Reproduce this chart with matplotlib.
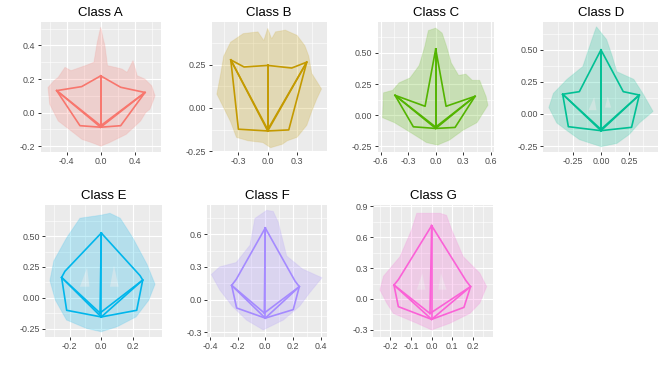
import matplotlib
matplotlib.use("Agg")
import matplotlib.pyplot as plt
from matplotlib.ticker import FixedLocator, FormatStrFormatter
from matplotlib.path import Path
from matplotlib.patches import PathPatch

plt.rcParams['font.family'] = ['Liberation Sans', 'DejaVu Sans']

classes = ["A", "B", "C", "D", "E", "F", "G"]
colors = ["#F8766D", "#C49A00", "#53B400", "#00C094", "#00B6EB", "#A58AFF", "#FB61D7"]

# mean shapes: tip, right sinus, right lobe, right base, petiole, left base, left lobe, left sinus, vein junction
mean_A = [(0, 0.219), (0.235, 0.151), (0.521, 0.120), (0.235, -0.078), (0, -0.087),
          (-0.244, -0.078), (-0.518, 0.131), (-0.224, 0.155), (0, -0.078)]
mean_B = [(0, 0.246), (0.245, 0.231), (0.399, 0.265), (0.215, -0.127), (0, -0.133),
          (-0.300, -0.123), (-0.378, 0.278), (-0.242, 0.237), (0, -0.125)]
mean_C = [(0, 0.532), (0.113, 0.072), (0.429, 0.152), (0.211, -0.098), (0, -0.106),
          (-0.244, -0.093), (-0.444, 0.160), (-0.116, 0.072), (0, -0.095)]
mean_D = [(0, 0.500), (0.197, 0.174), (0.338, 0.148), (0.270, -0.104), (0, -0.130),
          (-0.288, -0.099), (-0.338, 0.154), (-0.191, 0.174), (0, -0.120)]
mean_E = [(0, 0.525), (0.245, 0.180), (0.262, 0.144), (0.224, -0.101), (0, -0.155),
          (-0.219, -0.101), (-0.251, 0.165), (-0.230, 0.215), (-0.008, -0.123)]
mean_F = [(0, 0.658), (0.215, 0.170), (0.246, 0.118), (0.202, -0.093), (0, -0.171),
          (-0.207, -0.078), (-0.243, 0.130), (-0.210, 0.185), (-0.007, -0.124)]
mean_G = [(0, 0.710), (0.165, 0.180), (0.188, 0.120), (0.156, -0.081), (0, -0.197),
          (-0.161, -0.074), (-0.182, 0.135), (-0.160, 0.190), (-0.008, -0.140)]

# outer envelope of the individual shapes
cloud_A = [(0, 0.51), (0.03, 0.44), (0.05, 0.40), (0.08, 0.28), (0.17, 0.27), (0.25, 0.26),
           (0.31, 0.24), (0.38, 0.31), (0.43, 0.22), (0.52, 0.20), (0.60, 0.16), (0.64, 0.10),
           (0.58, 0.02), (0.53, 0.00), (0.47, -0.05), (0.30, -0.13), (0.10, -0.18), (0, -0.20),
           (-0.10, -0.18), (-0.22, -0.16), (-0.32, -0.12), (-0.50, -0.05), (-0.60, 0.05),
           (-0.62, 0.15), (-0.55, 0.19), (-0.50, 0.21), (-0.42, 0.27), (-0.35, 0.25),
           (-0.18, 0.28), (-0.08, 0.30), (-0.04, 0.42)]
cloud_B = [(0, 0.46), (0.04, 0.40), (0.08, 0.44), (0.18, 0.45), (0.30, 0.42), (0.38, 0.36),
           (0.42, 0.30), (0.45, 0.20), (0.55, 0.11), (0.50, 0.05), (0.45, -0.02), (0.40, -0.10),
           (0.30, -0.17), (0.20, -0.19), (0.15, -0.21), (0.03, -0.23), (-0.05, -0.20),
           (-0.20, -0.19), (-0.32, -0.17), (-0.38, -0.08), (-0.45, 0.00), (-0.52, 0.08),
           (-0.48, 0.20), (-0.45, 0.30), (-0.38, 0.38), (-0.25, 0.43), (-0.10, 0.44),
           (-0.04, 0.39)]
cloud_C = [(0, 0.70), (0.07, 0.66), (0.12, 0.55), (0.17, 0.42), (0.25, 0.32), (0.33, 0.33),
           (0.40, 0.28), (0.48, 0.28), (0.55, 0.15), (0.57, 0.08), (0.45, -0.06), (0.30, -0.12),
           (0.15, -0.20), (0.02, -0.24), (-0.10, -0.22), (-0.25, -0.15), (-0.45, -0.06),
           (-0.58, -0.02), (-0.57, 0.18), (-0.47, 0.20), (-0.40, 0.26), (-0.28, 0.30),
           (-0.18, 0.40), (-0.12, 0.55), (-0.08, 0.68)]
cloud_D = [(-0.04, 0.68), (0.05, 0.58), (0.10, 0.45), (0.14, 0.33), (0.29, 0.27), (0.37, 0.16),
           (0.46, 0.02), (0.34, -0.07), (0.25, -0.16), (0.14, -0.23), (0, -0.255),
           (-0.19, -0.20), (-0.30, -0.13), (-0.39, -0.07), (-0.46, 0.05), (-0.42, 0.16),
           (-0.30, 0.27), (-0.16, 0.37), (-0.08, 0.58)]
cloud_E = [(0, 0.67), (0.055, 0.685), (0.12, 0.645), (0.20, 0.485), (0.29, 0.27), (0.34, 0.11),
           (0.30, -0.02), (0.22, -0.155), (0.10, -0.235), (0, -0.275), (-0.09, -0.25),
           (-0.22, -0.18), (-0.29, -0.02), (-0.325, 0.14), (-0.30, 0.30), (-0.22, 0.485),
           (-0.135, 0.645)]
cloud_F = [(0.01, 0.82), (0.058, 0.81), (0.094, 0.71), (0.155, 0.40), (0.27, 0.28), (0.41, 0.20),
           (0.32, 0.06), (0.25, -0.06), (0.13, -0.19), (-0.015, -0.28), (-0.135, -0.19),
           (-0.24, -0.06), (-0.33, 0.09), (-0.39, 0.23), (-0.33, 0.30), (-0.21, 0.34),
           (-0.11, 0.50), (-0.075, 0.745)]
cloud_G = [(0.04, 0.83), (0.072, 0.81), (0.097, 0.67), (0.153, 0.41), (0.233, 0.25), (0.266, 0.12),
           (0.233, -0.04), (0.185, -0.14), (0.089, -0.235), (0, -0.30), (-0.072, -0.235),
           (-0.185, -0.14), (-0.217, -0.04), (-0.25, 0.087), (-0.233, 0.22), (-0.153, 0.41),
           (-0.097, 0.67), (-0.072, 0.83)]

# lighter gaps inside the cloud
holes_D = [[(-0.11, 0.03), (-0.06, 0.13), (-0.04, 0.03)], [(0.035, 0.05), (0.06, 0.135), (0.09, 0.05)]]
holes_E = [[(-0.135, 0.09), (-0.09, 0.245), (-0.075, 0.09)], [(0.055, 0.09), (0.08, 0.26), (0.11, 0.09)]]
holes_G = [[(-0.072, 0.09), (-0.045, 0.25), (-0.03, 0.09)], [(0.032, 0.09), (0.045, 0.25), (0.072, 0.09)]]

means = [mean_A, mean_B, mean_C, mean_D, mean_E, mean_F, mean_G]
clouds = [cloud_A, cloud_B, cloud_C, cloud_D, cloud_E, cloud_F, cloud_G]
holes = [[], [], [], holes_D, holes_E, [], holes_G]

xticks = [[-0.4, 0, 0.4], [-0.3, 0, 0.3], [-0.6, -0.3, 0, 0.3, 0.6], [-0.25, 0, 0.25],
          [-0.2, 0, 0.2], [-0.4, -0.2, 0, 0.2, 0.4], [-0.2, -0.1, 0, 0.1, 0.2]]
yticks = [[-0.2, 0, 0.2, 0.4], [-0.25, 0, 0.25], [-0.25, 0, 0.25, 0.5], [-0.25, 0, 0.25, 0.5],
          [-0.25, 0, 0.25, 0.5], [-0.3, 0, 0.3, 0.6], [-0.3, 0, 0.3, 0.6, 0.9]]
xfmt = ["%.1f", "%.1f", "%.1f", "%.2f", "%.1f", "%.1f", "%.1f"]
yfmt = ["%.1f", "%.2f", "%.2f", "%.2f", "%.2f", "%.1f", "%.1f"]

xlims = [(-0.706, 0.706), (-0.573, 0.603), (-0.633, 0.636), (-0.509, 0.506),
         (-0.356, 0.382), (-0.419, 0.444), (-0.282, 0.295)]
ylims = [(-0.233, 0.543), (-0.253, 0.50), (-0.293, 0.753), (-0.294, 0.721),
         (-0.315, 0.752), (-0.342, 0.869), (-0.365, 0.91)]

# panel boxes in pixels: left, right, top, bottom
W, H = 664, 369
boxes = [(40.7, 160.7, 21.5, 151.7), (211.7, 326.7, 21.5, 151.7), (377.7, 494, 21.5, 151.7),
         (543.3, 658.3, 21.5, 151.7), (45, 161.7, 205, 336.7), (207.3, 326.7, 205, 336.7),
         (373.3, 492.7, 205, 336.7)]

outline = [0, 1, 2, 3, 4, 5, 6, 7, 0]
veins = [(4, 0), (4, 2), (4, 6), (8, 0), (8, 2), (8, 6)]


def minors(ticks):
    step = ticks[1] - ticks[0]
    out = [t + step / 2 for t in ticks[:-1]]
    return [ticks[0] - step / 2] + out + [ticks[-1] + step / 2]


def ring(pts, reverse=False):
    pts = list(reversed(pts)) if reverse else list(pts)
    v = pts + [pts[0]]
    c = [Path.MOVETO] + [Path.LINETO] * (len(pts) - 1) + [Path.CLOSEPOLY]
    return v, c


fig = plt.figure(figsize=(W / 100, H / 100), dpi=100)

for i, cl in enumerate(classes):
    l, r, t, b = boxes[i]
    ax = fig.add_axes([l / W, 1 - b / H, (r - l) / W, (b - t) / H])
    ax.set_facecolor("#EBEBEB")
    for s in ax.spines.values():
        s.set_visible(False)
    col = colors[i]

    # light layer over the whole envelope, second layer leaves the gaps lighter
    v0, c0 = ring(clouds[i])
    ax.add_patch(PathPatch(Path(v0, c0), facecolor=col, edgecolor=col,
                           alpha=0.12, lw=0.8, zorder=2))
    verts, codes = list(v0), list(c0)
    for h in holes[i]:
        hv, hc = ring(h, reverse=True)
        verts += hv
        codes += hc
    ax.add_patch(PathPatch(Path(verts, codes), facecolor=col, edgecolor="none",
                           alpha=0.12, zorder=2))

    m = means[i]
    ax.plot([m[k][0] for k in outline], [m[k][1] for k in outline], color=col, lw=1.2, zorder=3)
    for a, c in veins:
        ax.plot([m[a][0], m[c][0]], [m[a][1], m[c][1]], color=col, lw=1.2, zorder=3)

    ax.set_xlim(*xlims[i])
    ax.set_ylim(*ylims[i])
    ax.xaxis.set_major_locator(FixedLocator(xticks[i]))
    ax.yaxis.set_major_locator(FixedLocator(yticks[i]))
    ax.xaxis.set_minor_locator(FixedLocator(minors(xticks[i])))
    ax.yaxis.set_minor_locator(FixedLocator(minors(yticks[i])))
    ax.xaxis.set_major_formatter(FormatStrFormatter(xfmt[i]))
    ax.yaxis.set_major_formatter(FormatStrFormatter(yfmt[i]))
    ax.grid(True, which="major", color="white", lw=0.8, zorder=1)
    ax.grid(True, which="minor", color="white", lw=0.4, zorder=1)
    ax.set_axisbelow(True)
    ax.tick_params(which="major", length=2.2, width=0.7, color="#333333",
                   labelsize=6.4, labelcolor="#4D4D4D", pad=1.5)
    ax.tick_params(which="minor", length=0)
    ax.set_title("Class " + cl, fontsize=9.5, pad=4)

fig.savefig("out.png", dpi=100)
